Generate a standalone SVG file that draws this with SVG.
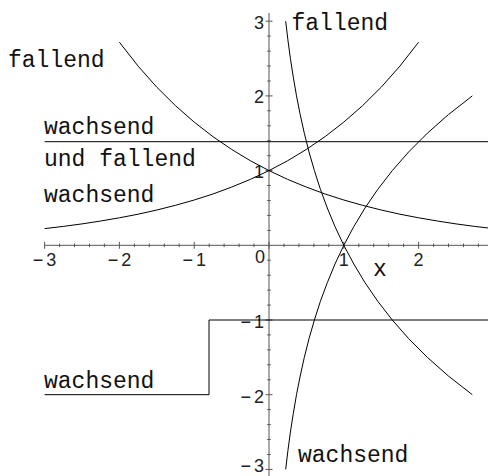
<svg xmlns="http://www.w3.org/2000/svg" width="488" height="476" viewBox="0 0 488 476">
<style>
.ax{stroke:#555;stroke-width:1;fill:none}
.cv{stroke:#000;stroke-width:1;fill:none}
.lbl{font-family:"Liberation Mono","Courier New",monospace;font-size:23px;fill:#111}
.tk{font-family:"Liberation Sans",Arial,sans-serif;font-size:18px;fill:#222}
.tx{text-anchor:middle}
.ty{text-anchor:end}
</style>
<rect width="488" height="476" fill="#fff"/>
<g id="axes">
<line class="ax" x1="44.6" y1="245.3" x2="488" y2="245.3"/>
<line class="ax" x1="269" y1="13" x2="269" y2="476"/>
<path class="ax" d="M44.6 241.8V248.8M119.4 241.8V248.8M194.2 241.8V248.8M269 241.8V248.8M343.8 241.8V248.8M418.6 241.8V248.8
M59.6 243.5V247.1M74.5 243.5V247.1M89.5 243.5V247.1M104.4 243.5V247.1
M134.4 243.5V247.1M149.3 243.5V247.1M164.3 243.5V247.1M179.2 243.5V247.1
M209.2 243.5V247.1M224.1 243.5V247.1M239.1 243.5V247.1M254 243.5V247.1
M284 243.5V247.1M298.9 243.5V247.1M313.9 243.5V247.1M328.8 243.5V247.1
M358.8 243.5V247.1M373.7 243.5V247.1M388.7 243.5V247.1M403.6 243.5V247.1
M433.6 243.5V247.1M448.5 243.5V247.1M463.5 243.5V247.1M478.4 243.5V247.1"/>
<path class="ax" d="M265.5 21.2H272.5M265.5 95.9H272.5M265.5 170.6H272.5M265.5 320H272.5M265.5 394.7H272.5M265.5 469.4H272.5
M267.2 36.1H270.8M267.2 51.1H270.8M267.2 66H270.8M267.2 81H270.8
M267.2 110.8H270.8M267.2 125.8H270.8M267.2 140.7H270.8M267.2 155.7H270.8
M267.2 185.5H270.8M267.2 200.5H270.8M267.2 215.4H270.8M267.2 230.4H270.8
M267.2 260.2H270.8M267.2 275.2H270.8M267.2 290.1H270.8M267.2 305.1H270.8
M267.2 334.9H270.8M267.2 349.9H270.8M267.2 364.8H270.8M267.2 379.8H270.8
M267.2 409.6H270.8M267.2 424.6H270.8M267.2 439.5H270.8M267.2 454.5H270.8"/>
<text class="tk tx" x="44.6" y="265.5">−<tspan dx="3">3</tspan></text>
<text class="tk tx" x="119.4" y="265.5">−<tspan dx="3">2</tspan></text>
<text class="tk tx" x="194.2" y="265.5">−<tspan dx="3">1</tspan></text>
<text class="tk ty" x="265" y="262.5">0</text>
<text class="tk tx" x="343.8" y="265.5">1</text>
<text class="tk tx" x="418.6" y="265.5">2</text>
<text class="tk ty" x="264" y="28.5">3</text>
<text class="tk ty" x="264" y="103.2">2</text>
<text class="tk ty" x="264" y="177.9">1</text>
<text class="tk ty" x="264" y="327.8">−<tspan dx="3">1</tspan></text>
<text class="tk ty" x="264" y="402.5">−<tspan dx="3">2</tspan></text>
<text class="tk ty" x="264" y="472">−<tspan dx="3">3</tspan></text>
</g>
<g id="curves">
<polyline id="exp-up" class="cv" points="44.6,228.6 63.3,226.4 82,223.9 100.7,221 119.4,217.8 138.1,214.2 156.8,210 175.5,205.3 194.2,200 212.9,194 231.6,187.1 250.3,179.4 269,170.6 287.7,160.7 306.4,149.4 325.1,136.6 343.8,122.1 362.5,105.7 381.2,87.2 399.9,66.1 418.6,42.2"/>
<polyline id="exp-down" class="cv" points="119.4,42.2 138.1,66.1 156.8,87.2 175.5,105.7 194.2,122.1 212.9,136.6 231.6,149.4 250.3,160.7 269,170.6 287.7,179.4 306.4,187.1 325.1,194 343.8,200 362.5,205.3 381.2,210 399.9,214.2 418.6,217.8 437.3,221 456,223.9 474.7,226.4 493.4,228.6"/>
<polyline id="log-up" class="cv" points="285.7,469.4 287.9,450.7 290.4,432.1 293.3,413.4 296.5,394.7 300.2,376 304.3,357.4 309,338.7 314.4,320 320.4,301.3 327.3,282.7 335,264 343.8,245.3 353.8,226.6 365,208 377.8,189.3 392.3,170.6 408.7,151.9 427.4,133.2 448.4,114.6 472.3,95.9"/>
<polyline id="log-down" class="cv" points="285.7,21.2 287.9,39.9 290.4,58.5 293.3,77.2 296.5,95.9 300.2,114.6 304.3,133.2 309,151.9 314.4,170.6 320.4,189.3 327.3,208 335,226.6 343.8,245.3 353.8,264 365,282.7 377.8,301.3 392.3,320 408.7,338.7 427.4,357.4 448.4,376 472.3,394.7"/>
<line id="const" class="cv" x1="44.6" y1="141.7" x2="488" y2="141.7"/>
<polyline id="step" class="cv" points="44.6,394.7 209,394.7 209,320 488,320"/>
</g>
<g id="labels">
<text class="lbl" x="8" y="67">fallend</text>
<text class="lbl" x="44" y="134">wachsend</text>
<text class="lbl" x="44" y="165.5">und fallend</text>
<text class="lbl" x="44" y="202">wachsend</text>
<text class="lbl" x="291.5" y="30">fallend</text>
<text class="lbl" x="373" y="275.5">x</text>
<text class="lbl" x="44" y="388">wachsend</text>
<text class="lbl" x="298" y="462">wachsend</text>
</g>
</svg>
